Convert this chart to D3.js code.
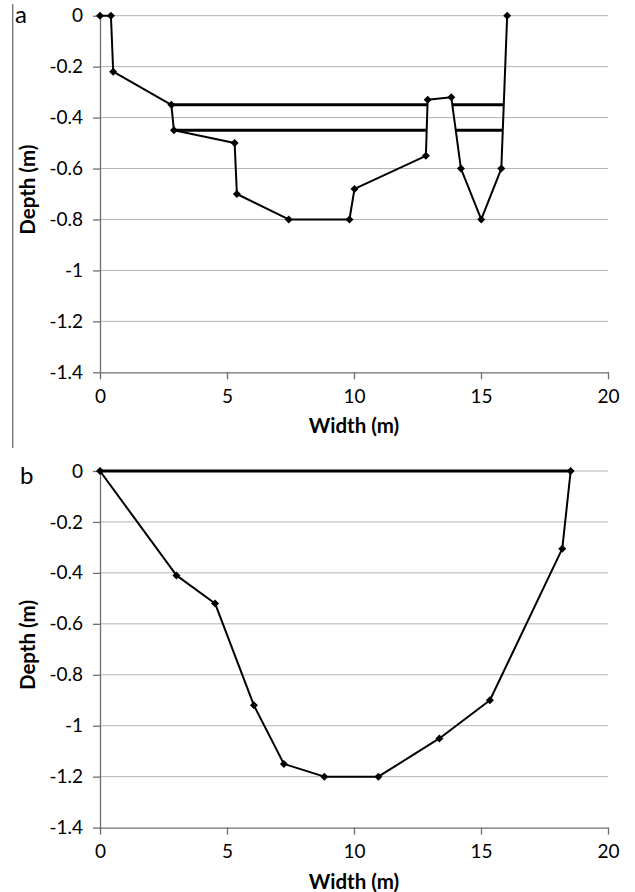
<html lang="en">
<head>
<meta charset="utf-8">
<title>D3: Channel cross sections</title>
<script src="https://d3js.org/d3.v7.min.js"></script>
<style type="text/css">
body { margin: 0; background: #fff; }
text { font-family: Lato, "Open Sans", sans-serif; fill: #000; }
.grid line { stroke: #b4b4b4; stroke-width: 1; }
.axis path, .axis line { stroke: #6e6e6e; stroke-width: 1.3; }
.axis text { font-size: 19px; fill: #000; }
</style>
</head>
<body>
<script type="text/javascript">

// panel a - bed profile (width m, depth m)
var widthA = [0, 0.43, 0.52, 2.81, 2.91, 5.30, 5.39, 7.43, 9.82, 10.02, 12.83, 12.90, 13.83, 14.21, 15.01, 15.80, 16.03];
var depthA = [0, 0, -0.22, -0.35, -0.45, -0.50, -0.70, -0.80, -0.80, -0.68, -0.55, -0.33, -0.32, -0.60, -0.80, -0.60, 0];
// panel a - water level lines, one entry per segment
var waterStartA = [2.81, 13.87, 2.91, 14.00];
var waterEndA = [12.89, 15.90, 12.84, 15.85];
var waterLevelA = [-0.35, -0.35, -0.45, -0.45];

// panel b - bed profile
var widthB = [0, 3.01, 4.53, 6.06, 7.24, 8.83, 10.96, 13.36, 15.35, 18.20, 18.53];
var depthB = [0, -0.41, -0.52, -0.92, -1.15, -1.20, -1.20, -1.05, -0.90, -0.305, 0];
var waterStartB = [0];
var waterEndB = [18.53];
var waterLevelB = [0];

var xTicks = [0, 5, 10, 15, 20];
var yTicks = [0, -0.2, -0.4, -0.6, -0.8, -1, -1.2, -1.4];

var w = 635, h = 892;

var svg = d3.select("body")
	.append("svg")
	.attr("width", w)
	.attr("height", h);

// frame line left of panel a
svg.append("line")
	.attr("x1", 12.7).attr("x2", 12.7)
	.attr("y1", 4).attr("y2", 448)
	.attr("stroke", "#6e6e6e")
	.attr("stroke-width", 1.3);

var drawPanel = function(top, letter, xs, ys, ws, we, wl) {

	var x = d3.scaleLinear().domain([0, 20]).range([100, 608]);
	var y = d3.scaleLinear().domain([0, -1.4]).range([top, top + 356.6]);

	var g = svg.append("g");

	// gridlines
	g.append("g").attr("class", "grid")
		.selectAll("line")
		.data(yTicks.slice(0, yTicks.length - 1))
		.enter()
		.append("line")
		.attr("x1", x(0)).attr("x2", x(20))
		.attr("y1", function(d) { return y(d); })
		.attr("y2", function(d) { return y(d); });

	g.append("g").attr("class", "axis")
		.attr("transform", "translate(" + x(0) + ",0)")
		.call(d3.axisLeft(y).tickValues(yTicks).tickSizeInner(7).tickSizeOuter(0)
			.tickPadding(10).tickFormat(function(d) { return String(d); }));

	g.append("g").attr("class", "axis")
		.attr("transform", "translate(0," + y(-1.4) + ")")
		.call(d3.axisBottom(x).tickValues(xTicks).tickSizeInner(7).tickSizeOuter(0)
			.tickPadding(10).tickFormat(function(d) { return String(d); }));

	// water level lines
	g.selectAll(".water")
		.data(ws)
		.enter()
		.append("line")
		.attr("class", "water")
		.attr("x1", function(d) { return x(d); })
		.attr("x2", function(d, i) { return x(we[i]); })
		.attr("y1", function(d, i) { return y(wl[i]); })
		.attr("y2", function(d, i) { return y(wl[i]); })
		.attr("stroke", "#000")
		.attr("stroke-width", 3);

	// bed profile
	var pts = xs.map(function(d, i) { return [d, ys[i]]; });
	g.append("path")
		.datum(pts)
		.attr("fill", "none")
		.attr("stroke", "#000")
		.attr("stroke-width", 2)
		.attr("stroke-linejoin", "round")
		.attr("d", d3.line().x(function(d) { return x(d[0]); }).y(function(d) { return y(d[1]); }));

	// diamond markers
	g.selectAll(".pt")
		.data(pts)
		.enter()
		.append("path")
		.attr("class", "pt")
		.attr("d", d3.symbol().type(d3.symbolSquare).size(32))
		.attr("transform", function(d) { return "translate(" + x(d[0]) + "," + y(d[1]) + ") rotate(45)"; })
		.attr("fill", "#000");

	// titles
	g.append("text")
		.attr("x", (x(0) + x(20)) / 2)
		.attr("y", y(-1.4) + 61)
		.attr("text-anchor", "middle")
		.attr("font-size", "20.5px")
		.attr("font-weight", "bold")
		.text("Width (m)");

	g.append("text")
		.attr("transform", "translate(27," + (top + 174) + ") rotate(-90)")
		.attr("text-anchor", "middle")
		.attr("dominant-baseline", "central")
		.attr("font-size", "20.5px")
		.attr("font-weight", "bold")
		.text("Depth (m)");

	g.append("text")
		.attr("x", letter == "a" ? 15 : 20)
		.attr("y", top + (letter == "a" ? 7 : 13))
		.attr("font-size", "24px")
		.text(letter);
};

drawPanel(15.7, "a", widthA, depthA, waterStartA, waterEndA, waterLevelA);
drawPanel(471, "b", widthB, depthB, waterStartB, waterEndB, waterLevelB);

</script>
</body>
</html>
